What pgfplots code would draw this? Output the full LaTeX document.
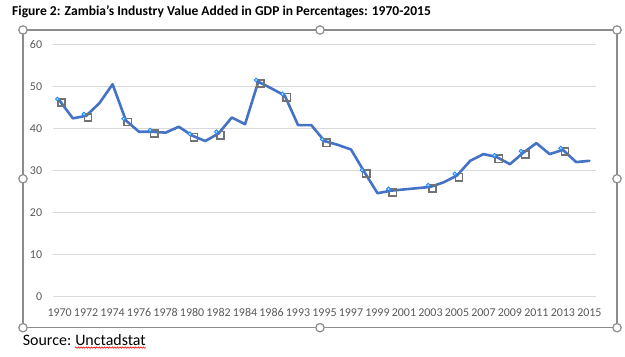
\documentclass[border=0pt]{standalone}
\usepackage{pgfplots}
\pgfplotsset{compat=1.18}
\usepackage{fontspec}
\setmainfont{Carlito}
\usetikzlibrary{decorations.pathmorphing}
\definecolor{lineblue}{HTML}{4472C4}
\definecolor{gridgray}{HTML}{D9D9D9}
\definecolor{tickgray}{HTML}{595959}
\definecolor{framegray}{HTML}{8C8C8C}
\definecolor{markgray}{HTML}{737373}
\definecolor{dotblue}{HTML}{1E8CFF}
\definecolor{dotfill}{HTML}{BFE3FF}
\pgfplotstableread{
i v
0 46.6
1 42.4
2 43.0
3 46.0
4 50.5
5 41.9
6 39.2
7 39.2
8 39.0
9 40.4
10 38.3
11 37.0
12 38.8
13 42.6
14 41.0
15 51.1
16 49.5
17 47.8
18 40.8
19 40.8
20 37.0
21 36.1
22 35.0
23 29.7
24 24.6
25 25.2
26 25.5
27 25.8
28 26.1
29 27.2
30 28.8
31 32.3
32 33.9
33 33.2
34 31.5
35 34.2
36 36.5
37 33.9
38 34.9
39 32.0
40 32.3
}\zambia
\pgfplotstableread{
i v
0 46.6
2 43.0
5 41.9
7 39.2
10 38.3
12 38.8
15 51.1
17 47.8
20 37.0
23 29.7
25 25.2
28 26.1
30 28.8
33 33.2
35 34.2
38 34.9
}\marked
\begin{document}
\begin{tikzpicture}[x=1bp,y=1bp]
\useasboundingbox (0,0) rectangle (625,356);
\begin{axis}[
  scale only axis, width=543bp, height=252.4bp,
  at={(53bp,59.3bp)}, anchor=south west,
  xmin=-0.5, xmax=40.5, ymin=0, ymax=60,
  ytick={0,10,...,60},
  xtick={0,2,...,40},
  xticklabels={1970,1972,1974,1976,1978,1980,1982,1984,1986,1993,1995,1997,1999,2001,2003,2005,2007,2009,2011,2013,2015},
  axis line style={draw=none},
  major tick length=0,
  ymajorgrids,
  grid style={color=gridgray, line width=0.75bp},
  tick label style={font=\fontsize{12}{12}\selectfont, text=tickgray},
  /pgf/number format/assume math mode=true,
  xticklabel style={anchor=base, yshift=-19.3bp, inner sep=0pt},
  yticklabel style={anchor=east, inner sep=0pt, xshift=-10.7bp},
  clip=false,
]
\addplot[lineblue, line width=2.6bp, line join=round, line cap=round] table[x=i,y=v] {\zambia};
\addplot[only marks, mark=square, mark size=3.6bp, mark options={draw=markgray, line width=1.5bp, xshift=2bp, yshift=-1.7bp}] table[x=i,y=v] {\marked};
\addplot[only marks, mark=*, mark size=1.9bp, mark options={draw=dotblue, fill=dotfill, line width=0.9bp, xshift=-2.2bp, yshift=1.7bp}] table[x=i,y=v] {\marked};
\end{axis}
% chart frame with selection handles
\draw[framegray, line width=1.2bp] (23,28.3) rectangle (617,326);
\foreach \p in {(23,28.3),(320,28.3),(617,28.3),(23,177.2),(617,177.2),(23,326),(320,326),(617,326)}
  \draw[framegray, line width=1.2bp, fill=white] \p circle (4.2);
% title
\node[anchor=base west, inner sep=0pt, font=\fontsize{13.6}{15}\selectfont\bfseries] at (12,341) {Figure 2: Zambia’s Industry Value Added in GDP in Percentages: 1970-2015};
% source
\node[anchor=base west, inner sep=0pt, font=\fontsize{16}{18}\selectfont] (src) at (22.7,11) {Source:};
\node[anchor=base west, inner sep=0pt, font=\fontsize{16}{18}\selectfont] (unc) at ([xshift=3.6bp]src.base east) {Unctadstat};
\draw[red, line width=0.6bp, decorate, decoration={snake, amplitude=0.7bp, segment length=2.6bp}] ([yshift=-2.6bp]unc.base west) -- ([yshift=-2.6bp]unc.base east);
\end{tikzpicture}
\end{document}
